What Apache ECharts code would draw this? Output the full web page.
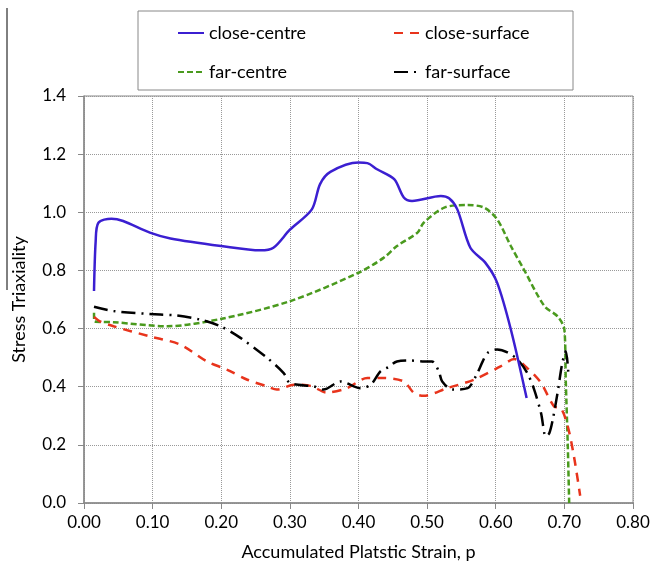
<!DOCTYPE html>
<html>
<head>
<meta charset="utf-8">
<script src="https://cdn.jsdelivr.net/npm/echarts@6/dist/echarts.min.js"></script>
<style>
  html, body { margin: 0; padding: 0; background: #fff; }
  #chart { width: 654px; height: 574px; }
</style>
</head>
<body>
<div id="chart"></div>
<script>
var xTicks = [0, 0.1, 0.2, 0.3, 0.4, 0.5, 0.6, 0.7, 0.8];
var yTicks = [0, 0.2, 0.4, 0.6, 0.8, 1.0, 1.2, 1.4];

var closeCentreX = [0.0146, 0.017, 0.021, 0.040, 0.057, 0.096, 0.126, 0.200, 0.257, 0.276, 0.300, 0.332, 0.344, 0.359, 0.400, 0.413, 0.427, 0.452, 0.466, 0.478, 0.520, 0.532, 0.544, 0.563, 0.585, 0.602, 0.622, 0.645];
var closeCentreY = [0.729, 0.90, 0.964, 0.978, 0.970, 0.930, 0.910, 0.884, 0.869, 0.878, 0.940, 1.010, 1.097, 1.139, 1.171, 1.169, 1.148, 1.114, 1.051, 1.039, 1.056, 1.048, 1.010, 0.878, 0.826, 0.758, 0.597, 0.361];

var closeSurfaceX = [0.0146, 0.023, 0.043, 0.096, 0.140, 0.179, 0.208, 0.238, 0.267, 0.281, 0.306, 0.330, 0.354, 0.383, 0.413, 0.437, 0.466, 0.481, 0.495, 0.529, 0.568, 0.607, 0.627, 0.646, 0.666, 0.685, 0.695, 0.705, 0.714, 0.723];
var closeSurfaceY = [0.640, 0.625, 0.608, 0.573, 0.545, 0.487, 0.459, 0.424, 0.401, 0.390, 0.407, 0.403, 0.380, 0.395, 0.430, 0.430, 0.418, 0.378, 0.369, 0.395, 0.424, 0.470, 0.495, 0.464, 0.413, 0.332, 0.326, 0.263, 0.160, 0.025];

var farCentreX = [0.0146, 0.0150, 0.043, 0.121, 0.199, 0.300, 0.400, 0.437, 0.456, 0.486, 0.495, 0.525, 0.559, 0.583, 0.602, 0.622, 0.641, 0.671, 0.690, 0.700, 0.702, 0.705, 0.707];
var farCentreY = [0.654, 0.625, 0.622, 0.608, 0.633, 0.694, 0.792, 0.844, 0.884, 0.930, 0.964, 1.016, 1.025, 1.016, 0.976, 0.884, 0.803, 0.677, 0.642, 0.597, 0.424, 0.194, 0.0];

var farSurfaceX = [0.0146, 0.043, 0.111, 0.135, 0.169, 0.199, 0.228, 0.267, 0.291, 0.300, 0.335, 0.349, 0.374, 0.403, 0.418, 0.432, 0.444, 0.456, 0.476, 0.493, 0.507, 0.517, 0.522, 0.537, 0.559, 0.571, 0.581, 0.588, 0.602, 0.617, 0.632, 0.646, 0.656, 0.666, 0.673, 0.678, 0.683, 0.690, 0.697, 0.702, 0.706];
var farSurfaceY = [0.675, 0.660, 0.648, 0.645, 0.631, 0.608, 0.568, 0.499, 0.447, 0.413, 0.401, 0.390, 0.418, 0.395, 0.407, 0.453, 0.468, 0.487, 0.490, 0.487, 0.487, 0.453, 0.418, 0.390, 0.395, 0.436, 0.487, 0.516, 0.528, 0.518, 0.493, 0.447, 0.390, 0.309, 0.229, 0.240, 0.286, 0.378, 0.482, 0.522, 0.440];

function pairs(xs, ys) {
  return xs.map(function (x, i) { return [x, ys[i]]; });
}

var font = 'Lato, "Open Sans", sans-serif';
var chart = echarts.init(document.getElementById('chart'), null, { renderer: 'canvas' });

function legendAt(name, left, top) {
  return {
    data: [name], left: left, top: top, itemWidth: 26, itemHeight: 14, itemGap: 0,
    itemStyle: { opacity: 0 },
    textStyle: { fontFamily: font, fontSize: 18, color: '#000' }, padding: 0
  };
}

chart.setOption({
  animation: false,
  backgroundColor: '#fff',
  graphic: [
    { type: 'rect', shape: { x: 138, y: 11, width: 435, height: 79 }, style: { fill: 'none', stroke: '#888', lineWidth: 1 } },
    { type: 'line', shape: { x1: 7, y1: 8, x2: 7, y2: 290 }, style: { stroke: '#000', lineWidth: 1 } }
  ],
  legend: [
    legendAt('close-centre', 177, 24),
    legendAt('close-surface', 393, 24),
    legendAt('far-centre', 177, 63),
    legendAt('far-surface', 393, 63)
  ],
  grid: { left: 84, right: 21, top: 96, bottom: 71, show: true, borderColor: '#888', borderWidth: 1 },
  xAxis: {
    type: 'value', min: 0, max: 0.8, interval: 0.1,
    name: 'Accumulated Platstic Strain, p', nameLocation: 'middle', nameGap: 40,
    nameTextStyle: { fontFamily: font, fontSize: 18, color: '#000' },
    axisLine: { lineStyle: { color: '#888', width: 1.5 } },
    axisTick: { show: true, length: 6, lineStyle: { color: '#888' } },
    axisLabel: { fontFamily: font, fontSize: 17, color: '#000', margin: 11,
      formatter: function (v) { return v.toFixed(2); } },
    splitLine: { show: true, lineStyle: { color: '#999', type: 'dotted', width: 1 } }
  },
  yAxis: {
    type: 'value', min: 0, max: 1.4, interval: 0.2,
    name: 'Stress Triaxiality', nameLocation: 'middle', nameGap: 56,
    nameTextStyle: { fontFamily: font, fontSize: 18, color: '#000' },
    axisLine: { show: true, lineStyle: { color: '#888', width: 1.5 } },
    axisTick: { show: true, length: 6, lineStyle: { color: '#888' } },
    axisLabel: { fontFamily: font, fontSize: 17, color: '#000', margin: 18,
      formatter: function (v) { return v.toFixed(1); } },
    splitLine: { show: true, lineStyle: { color: '#999', type: 'dotted', width: 1 } }
  },
  series: [
    { name: 'close-centre', type: 'line', symbol: 'none', smooth: 0.3, data: pairs(closeCentreX, closeCentreY),
      lineStyle: { color: '#3b1fd1', width: 2.5 }, itemStyle: { color: '#3b1fd1' }, z: 4 },
    { name: 'close-surface', type: 'line', symbol: 'none', smooth: 0.3, data: pairs(closeSurfaceX, closeSurfaceY),
      lineStyle: { color: '#e8341c', width: 2.5, type: [9, 7] }, itemStyle: { color: '#e8341c' }, z: 3 },
    { name: 'far-centre', type: 'line', symbol: 'none', smooth: 0.3, data: pairs(farCentreX, farCentreY),
      lineStyle: { color: '#4a9a1e', width: 2.5, type: [6, 3] }, itemStyle: { color: '#4a9a1e' }, z: 2 },
    { name: 'far-surface', type: 'line', symbol: 'none', smooth: 0.3, data: pairs(farSurfaceX, farSurfaceY),
      lineStyle: { color: '#000', width: 2.5, type: [14, 6, 2, 6] }, itemStyle: { color: '#000' }, z: 3 }
  ]
});
</script>
</body>
</html>
